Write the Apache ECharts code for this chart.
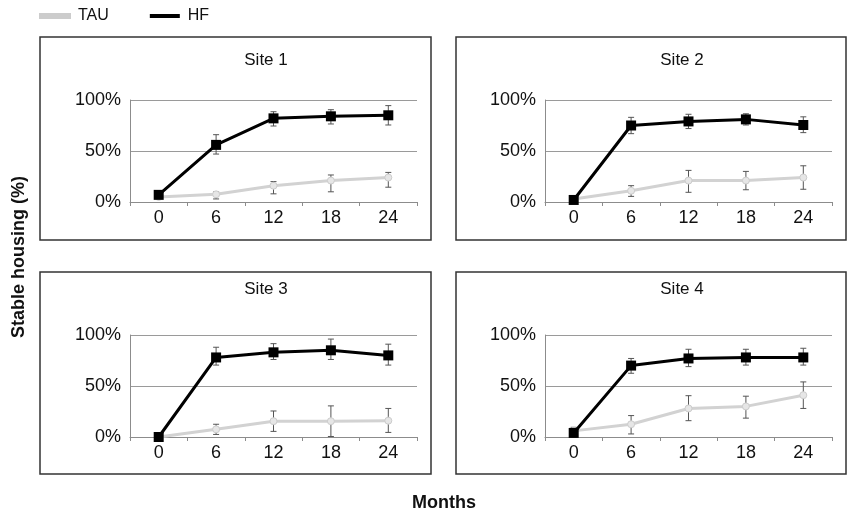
<!DOCTYPE html>
<html>
<head>
<meta charset="utf-8">
<script src="https://cdn.jsdelivr.net/npm/echarts@6/dist/echarts.min.js"></script>
<style>
html,body{margin:0;padding:0;background:#fff;}
#chart{width:847px;height:513px;}
</style>
</head>
<body>
<div id="chart"></div>
<script>
const months = ['0', '6', '12', '18', '24'];
const siteNames = ['Site 1', 'Site 2', 'Site 3', 'Site 4'];
const seriesNames = ['TAU', 'HF'];
const yTicks = [0, 50, 100];

const tau1 = [5, 7.5, 16, 21, 24];
const tau1Lo = [4, 3, 8, 10, 14.5];
const tau1Hi = [6, 10, 20, 26.5, 29];
const hf1 = [7, 56, 82, 84, 85];
const hf1Lo = [5, 47, 74.5, 76.5, 75.5];
const hf1Hi = [9, 66, 88.5, 90.5, 94.5];

const tau2 = [3, 11, 21, 21, 24];
const tau2Lo = [2, 5.5, 9.5, 12, 12.5];
const tau2Hi = [4, 16, 31, 30, 35.5];
const hf2 = [2, 75, 79, 81, 75.5];
const hf2Lo = [1, 67, 72, 75.5, 68];
const hf2Hi = [3, 83, 86, 86.5, 83.5];

const tau3 = [0, 7.5, 15.5, 15.5, 16];
const tau3Lo = [0, 2.5, 5.5, 0.5, 4.5];
const tau3Hi = [0, 12.5, 25.5, 30.5, 28];
const hf3 = [0, 78, 83, 85, 80];
const hf3Lo = [0, 70.5, 76, 76, 70.5];
const hf3Hi = [0, 88, 91.5, 96, 91];

const tau4 = [6, 12.5, 28, 30, 41];
const tau4Lo = [5, 3, 16, 18.5, 28];
const tau4Hi = [7, 21, 40.5, 40, 54];
const hf4 = [4, 70, 77, 78, 78];
const hf4Lo = [0, 62.5, 69, 70.5, 70.5];
const hf4Hi = [9.5, 77, 86, 86, 87];

const sites = [
  {tau: tau1, tauLo: tau1Lo, tauHi: tau1Hi, hf: hf1, hfLo: hf1Lo, hfHi: hf1Hi},
  {tau: tau2, tauLo: tau2Lo, tauHi: tau2Hi, hf: hf2, hfLo: hf2Lo, hfHi: hf2Hi},
  {tau: tau3, tauLo: tau3Lo, tauHi: tau3Hi, hf: hf3, hfLo: hf3Lo, hfHi: hf3Hi},
  {tau: tau4, tauLo: tau4Lo, tauHi: tau4Hi, hf: hf4, hfLo: hf4Lo, hfHi: hf4Hi}
];

// layout
const FONT = "'Liberation Sans', Arial, Helvetica, sans-serif";
const gridPos = [
  {left: 130, top: 100, width: 287, height: 102},
  {left: 545, top: 100, width: 287, height: 102},
  {left: 130, top: 335, width: 287, height: 102},
  {left: 545, top: 335, width: 287, height: 102}
];
const boxes = [
  {x: 40, y: 37, w: 391, h: 203},
  {x: 456, y: 37, w: 390, h: 203},
  {x: 40, y: 272, w: 391, h: 202},
  {x: 456, y: 272, w: 390, h: 202}
];
const titlePos = [
  {cx: 266, top: 52},
  {cx: 682, top: 52},
  {cx: 266, top: 281},
  {cx: 682, top: 281}
];

const TAU_LINE = '#d2d2d2';
const TAU_MARK = '#e6e6e6';
const HF_COLOR = '#000000';
const ERR_COLOR = '#555555';

function errSeries(idx, lo, hi, name) {
  const data = months.map((m, i) => [i, lo[i], hi[i]]);
  return {
    type: 'custom',
    name: name,
    xAxisIndex: idx,
    yAxisIndex: idx,
    z: 1,
    silent: true,
    data: data,
    encode: {x: 0, y: [1, 2]},
    renderItem: function (params, api) {
      const x = api.value(0);
      const p1 = api.coord([x, api.value(1)]);
      const p2 = api.coord([x, api.value(2)]);
      const cw = 3;
      const st = {stroke: ERR_COLOR, lineWidth: 1};
      return {
        type: 'group',
        children: [
          {type: 'line', shape: {x1: p1[0], y1: p1[1], x2: p2[0], y2: p2[1]}, style: st},
          {type: 'line', shape: {x1: p1[0] - cw, y1: p1[1], x2: p1[0] + cw, y2: p1[1]}, style: st},
          {type: 'line', shape: {x1: p2[0] - cw, y1: p2[1], x2: p2[0] + cw, y2: p2[1]}, style: st}
        ]
      };
    }
  };
}

const grids = [], xAxes = [], yAxes = [], series = [], titles = [], graphics = [];
sites.forEach((s, k) => {
  grids.push(Object.assign({containLabel: false}, gridPos[k]));
  xAxes.push({
    type: 'category', gridIndex: k, data: months, boundaryGap: true,
    axisLine: {lineStyle: {color: '#8c8c8c', width: 1}},
    axisTick: {show: true, alignWithLabel: false, length: 4, lineStyle: {color: '#8c8c8c'}},
    axisLabel: {fontSize: 18, color: '#111', fontFamily: FONT, margin: 7}
  });
  yAxes.push({
    type: 'value', gridIndex: k, min: yTicks[0], max: yTicks[yTicks.length - 1], interval: 50,
    axisLine: {show: true, lineStyle: {color: '#8c8c8c', width: 1}},
    axisTick: {show: false},
    splitLine: {lineStyle: {color: '#9a9a9a', width: 1}},
    axisLabel: {fontSize: 18, color: '#111', fontFamily: FONT, margin: 9, formatter: '{value}%'}
  });
  series.push(errSeries(k, s.tauLo, s.tauHi, 'TAU err'));
  series.push(errSeries(k, s.hfLo, s.hfHi, 'HF err'));
  series.push({
    type: 'line', name: seriesNames[0], xAxisIndex: k, yAxisIndex: k, data: s.tau, z: 2,
    symbol: 'circle', symbolSize: 7,
    lineStyle: {color: TAU_LINE, width: 3},
    itemStyle: {color: TAU_MARK, borderColor: '#cccccc', borderWidth: 1},
    emphasis: {disabled: true}, animation: false
  });
  series.push({
    type: 'line', name: seriesNames[1], xAxisIndex: k, yAxisIndex: k, data: s.hf, z: 3,
    symbol: 'rect', symbolSize: 10,
    lineStyle: {color: HF_COLOR, width: 3},
    itemStyle: {color: HF_COLOR},
    emphasis: {disabled: true}, animation: false
  });
  titles.push({
    text: siteNames[k], left: titlePos[k].cx, top: titlePos[k].top, padding: 0,
    textAlign: 'center',
    textStyle: {fontSize: 17, fontWeight: 'normal', color: '#111', fontFamily: FONT}
  });
  graphics.push({
    type: 'rect', shape: {x: boxes[k].x, y: boxes[k].y, width: boxes[k].w, height: boxes[k].h},
    style: {fill: 'none', stroke: '#333', lineWidth: 1.5}, silent: true, z: 0
  });
});

graphics.push({
  type: 'text', x: 19, y: 257, rotation: Math.PI / 2,
  style: {text: 'Stable housing (%)', fill: '#111',
          font: "bold 18px 'Liberation Sans', Arial, sans-serif", textAlign: 'center', textVerticalAlign: 'middle'}
});
graphics.push({
  type: 'text', x: 444, y: 503,
  style: {text: 'Months', fill: '#111',
          font: "bold 18px 'Liberation Sans', Arial, sans-serif", textAlign: 'center', textVerticalAlign: 'middle'}
});

const option = {
  animation: false,
  backgroundColor: '#fff',
  title: titles,
  legend: {
    left: 34, top: 3, icon: 'rect', itemWidth: 30, itemHeight: 4, itemGap: 41,
    textStyle: {fontSize: 16, color: '#111', fontFamily: FONT, padding: [0, 0, 0, 3]},
    data: [
      {name: seriesNames[0], itemStyle: {color: '#cccccc'}},
      {name: seriesNames[1], itemStyle: {color: '#000000'}}
    ],
    selectedMode: false
  },
  grid: grids,
  xAxis: xAxes,
  yAxis: yAxes,
  series: series,
  graphic: graphics
};

const chart = echarts.init(document.getElementById('chart'), null, {renderer: 'canvas'});
chart.setOption(option);
</script>
</body>
</html>
